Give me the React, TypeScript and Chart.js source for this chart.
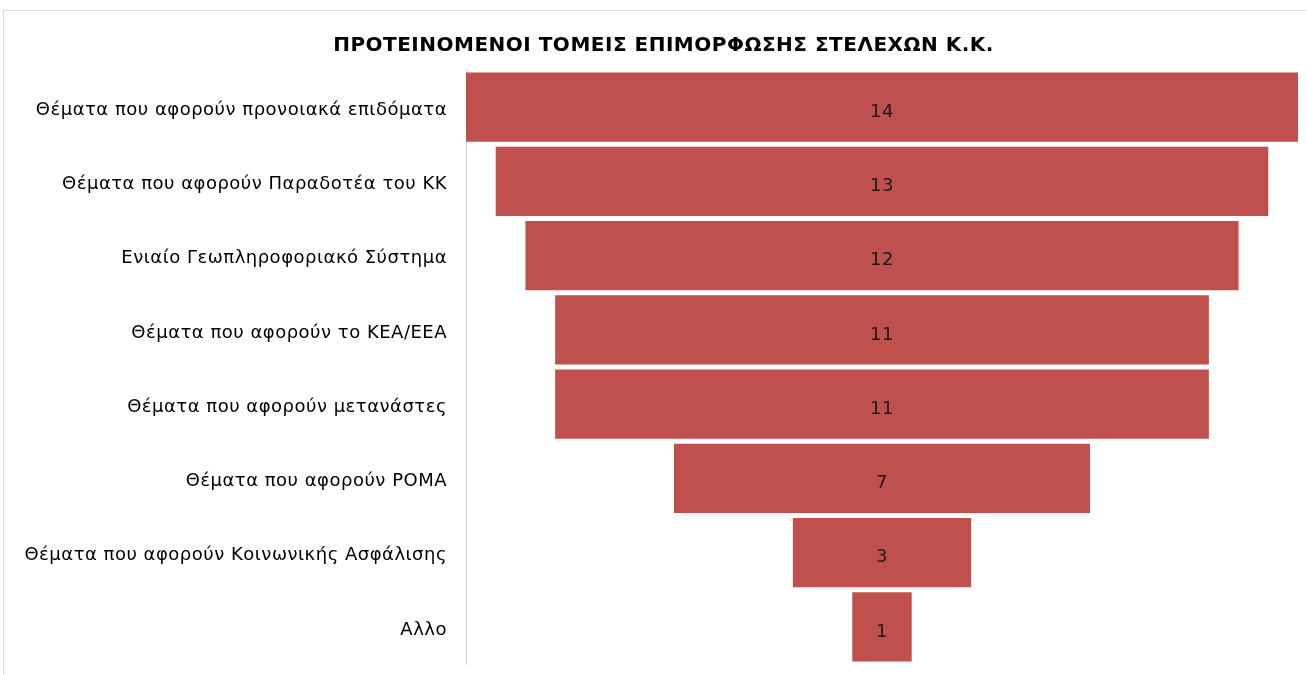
import React, { useEffect, useRef } from "react";
import { Chart, registerables } from "chart.js";

Chart.register(...registerables);

const TITLE = "ΠΡΟΤΕΙΝΟΜΕΝΟΙ ΤΟΜΕΙΣ ΕΠΙΜΟΡΦΩΣΗΣ ΣΤΕΛΕΧΩΝ Κ.Κ.";
const categories = [
  "Θέματα που αφορούν προνοιακά επιδόματα",
  "Θέματα που αφορούν Παραδοτέα του ΚΚ",
  "Ενιαίο Γεωπληροφοριακό Σύστημα",
  "Θέματα που αφορούν το ΚΕΑ/ΕΕΑ",
  "Θέματα που αφορούν μετανάστες",
  "Θέματα που αφορούν ΡΟΜΑ",
  "Θέματα που αφορούν Κοινωνικής Ασφάλισης",
  "Αλλο",
];
const values = [14, 13, 12, 11, 11, 7, 3, 1];
const maxValue = 14;

const BAR_COLOR = "#C0504D";
const FONT = "'DejaVu Sans', 'Noto Sans', sans-serif";

const spacing = {
  id: "spacing",
  beforeDraw(chart: any) {
    chart.ctx.letterSpacing = "0.5px";
  },
};

const centerLabels = {
  id: "centerLabels",
  afterDatasetsDraw(chart: any) {
    const { ctx } = chart;
    const meta = chart.getDatasetMeta(0);
    ctx.save();
    ctx.fillStyle = "#1a1a1a";
    ctx.font = `18px ${FONT}`;
    ctx.textAlign = "center";
    ctx.textBaseline = "middle";
    meta.data.forEach((bar: any, i: number) => {
      const x = (bar.x + bar.base) / 2;
      ctx.fillText(String(values[i]), x, bar.y + 5);
    });
    ctx.restore();
  },
};

export default function App() {
  const ref = useRef<HTMLCanvasElement | null>(null);
  useEffect(() => {
    document.body.style.margin = "0";
    const center = maxValue / 2;
    const chart = new Chart(ref.current as HTMLCanvasElement, {
      type: "bar",
      data: {
        labels: categories,
        datasets: [
          {
            data: values.map((v) => [center - v / 2, center + v / 2]) as any,
            backgroundColor: BAR_COLOR,
            borderWidth: 0,
            barPercentage: 0.93,
            categoryPercentage: 1,
          },
        ],
      },
      options: {
        indexAxis: "y",
        animation: false,
        responsive: false,
        maintainAspectRatio: false,
        layout: { padding: { left: 21, right: 0, top: 0, bottom: 11 } },
        plugins: {
          legend: { display: false },
          tooltip: { enabled: false },
          title: {
            display: true,
            text: TITLE,
            color: "#000000",
            font: { family: FONT, size: 20, weight: "bold" },
            padding: { top: 34, bottom: 12 },
          },
        },
        scales: {
          x: { display: false, min: 0, max: (maxValue * 840) / 832 },
          y: {
            afterFit: (scale: any) => {
              scale.width = 445;
              scale.paddingTop = 0;
              scale.paddingBottom = 0;
            },
            grid: { display: false, drawTicks: false },
            border: { display: true, color: "#d0d0d0", dash: [2, 2], width: 1 },
            ticks: {
              color: "#000000",
              font: { family: FONT, size: 18 },
              padding: 19,
              labelOffset: 3,
            },
          },
        },
      },
      plugins: [spacing, centerLabels],
    });
    return () => chart.destroy();
  }, []);
  return (
    <div style={{ position: "fixed", left: 0, top: 0, width: 1306, height: 675, background: "#fff" }}>
      <div
        style={{
          position: "absolute",
          left: 3,
          top: 10,
          right: 0,
          bottom: 0,
          borderLeft: "1px solid #d9d9d9",
          borderTop: "1px solid #d9d9d9",
        }}
      />
      <canvas ref={ref} width={1306} height={675} style={{ position: "absolute", left: 0, top: 0 }} />
    </div>
  );
}
